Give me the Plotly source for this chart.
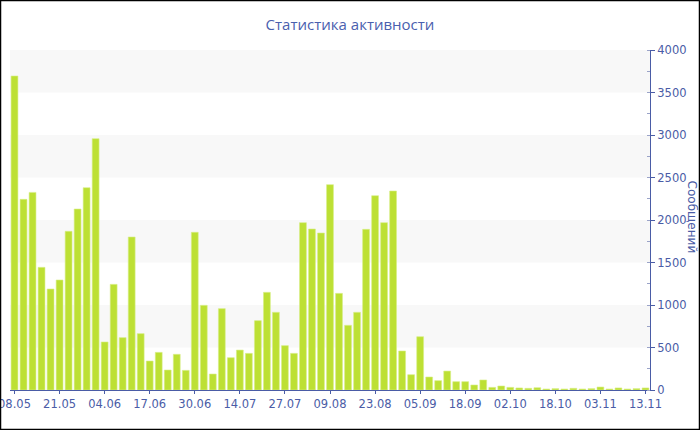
import plotly.graph_objects as go

dates = [
    "08.05", "11.05", "13.05", "16.05", "18.05", "21.05",
    "24.05", "26.05", "29.05", "01.06", "04.06",
    "06.06", "09.06", "12.06", "14.06", "17.06",
    "20.06", "22.06", "25.06", "27.06", "30.06",
    "03.07", "05.07", "08.07", "11.07", "14.07",
    "16.07", "19.07", "22.07", "24.07", "27.07",
    "30.07", "01.08", "04.08", "06.08", "09.08",
    "12.08", "15.08", "17.08", "20.08", "23.08",
    "26.08", "28.08", "31.08", "02.09", "05.09",
    "08.09", "10.09", "13.09", "15.09", "18.09",
    "21.09", "24.09", "26.09", "29.09", "02.10",
    "05.10", "08.10", "11.10", "15.10", "18.10",
    "21.10", "24.10", "27.10", "31.10", "03.11",
    "05.11", "07.11", "09.11", "11.11", "13.11",
]

messages = [
    3694, 2243, 2325, 1443, 1188, 1294, 1867, 2129, 2380, 2957,
    565, 1243, 616, 1800, 663, 341, 443, 235, 420, 231,
    1855, 996, 188, 957, 380, 470, 431, 816, 1149, 914,
    522, 431, 1969, 1894, 1847, 2416, 1137, 761, 914, 1890,
    2286, 1969, 2341, 459, 180, 627, 153, 110, 223, 98,
    98, 59, 118, 31, 47, 31, 24, 20, 27, 12,
    16, 12, 20, 12, 16, 35, 12, 24, 12, 16, 24,
]

title_text = "Статистика активности"
y_title = "Сообщений"
band_starts = [500, 1500, 2500, 3500]
band_height = 500

axis_color = "#4a5ca6"
text_color = "#4a5ca6"
font_family = "DejaVu Sans"

W, H = 700, 430
ML, MR, MT, MB = 10, 50, 50, 40
PW, PH = W - ML - MR, H - MT - MB

fig = go.Figure()
fig.add_trace(go.Bar(
    x=list(range(len(messages))),
    y=messages,
    marker=dict(color="#bde034", line=dict(color="#d6ee86", width=0.6)),
    hoverinfo="y",
))

shapes = []
for b in band_starts:
    shapes.append(dict(type="rect", xref="paper", yref="y", x0=0, x1=1,
                       y0=b, y1=b + band_height, fillcolor="#f8f8f8",
                       line=dict(width=0), layer="below"))
# outer black frame
shapes.append(dict(type="rect", xref="paper", yref="paper",
                   x0=-ML / PW, x1=1 + MR / PW, y0=-MB / PH, y1=1 + MT / PH,
                   line=dict(color="black", width=2.5), fillcolor="rgba(0,0,0,0)",
                   layer="above"))

fig.update_layout(
    width=W, height=H,
    margin=dict(l=ML, r=MR, t=MT, b=MB, autoexpand=False),
    paper_bgcolor="white", plot_bgcolor="white",
    bargap=0.24,
    showlegend=False,
    font=dict(family=font_family, size=11.5, color=text_color),
    title=dict(text=title_text, x=0.5, xref="container", xanchor="center",
               y=1 - 25 / H, yanchor="middle",
               font=dict(family="Open Sans", size=15, color="#4a60ae")),
    shapes=shapes,
    annotations=[dict(text=y_title, xref="paper", yref="paper",
                      x=1 + 42 / PW, y=0.51, textangle=90, showarrow=False,
                      xanchor="center", yanchor="middle",
                      font=dict(family=font_family, size=12, color=text_color))],
)

fig.update_xaxes(
    type="linear",
    automargin=False,
    ticklabeloverflow="allow",
    range=[-0.5, len(messages) - 0.5],
    tickmode="array",
    tickvals=list(range(0, len(messages), 5)),
    ticktext=[dates[i] for i in range(0, len(messages), 5)],
    showline=True, linecolor=axis_color, linewidth=1,
    ticks="outside", ticklen=3, tickcolor=axis_color,
    showgrid=False, zeroline=False,
    tickfont=dict(family=font_family, size=11.5, color=text_color),
)

fig.update_yaxes(
    side="right",
    automargin=False,
    ticklabeloverflow="allow",
    range=[0, 4000],
    dtick=500,
    showline=True, linecolor=axis_color, linewidth=1,
    ticks="outside", ticklen=4, tickcolor=axis_color,
    minor=dict(ticks="inside", ticklen=3, dtick=250, tickcolor="#9aa3c8", showgrid=False),
    showgrid=False, zeroline=False,
    tickfont=dict(family=font_family, size=11.5, color=text_color),
)

fig.write_html("out.html", config={"displayModeBar": False},
               post_script="document.body.style.margin='0';document.body.style.overflow='hidden';")
